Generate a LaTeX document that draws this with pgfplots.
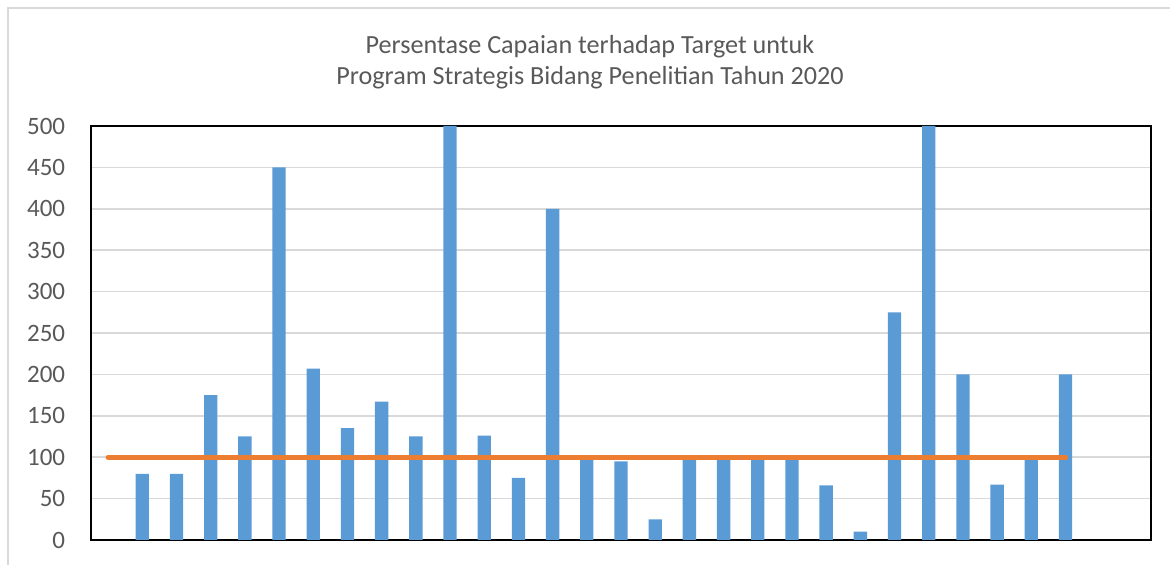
\documentclass[border=0pt]{standalone}
\usepackage{fontspec}
\setmainfont{Carlito}
\usepackage{pgfplots}
\usepackage{pgfplotstable}
\pgfplotsset{compat=1.18}

\definecolor{barblue}{HTML}{5B9BD5}
\definecolor{lineorange}{HTML}{ED7D31}
\definecolor{gridgray}{HTML}{D9D9D9}
\definecolor{txtgray}{HTML}{595959}

% persentase capaian per program (kategori 1..28)
\pgfplotstableread{
x y
1 80
2 80
3 175
4 125
5 450
6 207
7 135
8 167
9 125
10 500
11 126
12 75
13 400
14 100
15 95
16 25
17 100
18 100
19 100
20 100
21 66
22 10
23 275
24 500
25 200
26 67
27 100
28 200
}\capaian

\begin{document}
\begin{tikzpicture}
\useasboundingbox (0,0) rectangle (702pt,339pt);
\draw[gridgray, line width=1pt] (4.8pt,-5pt) -- (4.8pt,334.2pt) -- (710pt,334.2pt);
\node[txtgray, font=\fontsize{15.7}{18.6}\selectfont, align=center] at (354pt,301.5pt)
  {Persentase Capaian terhadap Target untuk\\Program Strategis Bidang Penelitian Tahun 2020};
\begin{axis}[
    at={(54.6pt,15pt)}, anchor=south west,
    scale only axis,
    width=636pt, height=248.4pt,
    xmin=-0.5, xmax=30.5,
    ymin=0, ymax=500,
    ytick={0,50,...,500},
    xtick=\empty,
    major tick length=0pt,
    ymajorgrids,
    grid style={gridgray, line width=0.9pt},
    axis line style={black, line width=1.1pt},
    yticklabel style={font=\fontsize{15}{17}\selectfont, text=txtgray, xshift=-12pt},
    /pgf/number format/assume math mode=true,
    clip=true,
]
\addplot[ybar, bar width=0.39, fill=barblue, draw=none] table[x=x, y=y] {\capaian};
\addplot[lineorange, line width=3pt, line cap=round] coordinates {(0,100) (28,100)};
\end{axis}
\end{tikzpicture}
\end{document}
